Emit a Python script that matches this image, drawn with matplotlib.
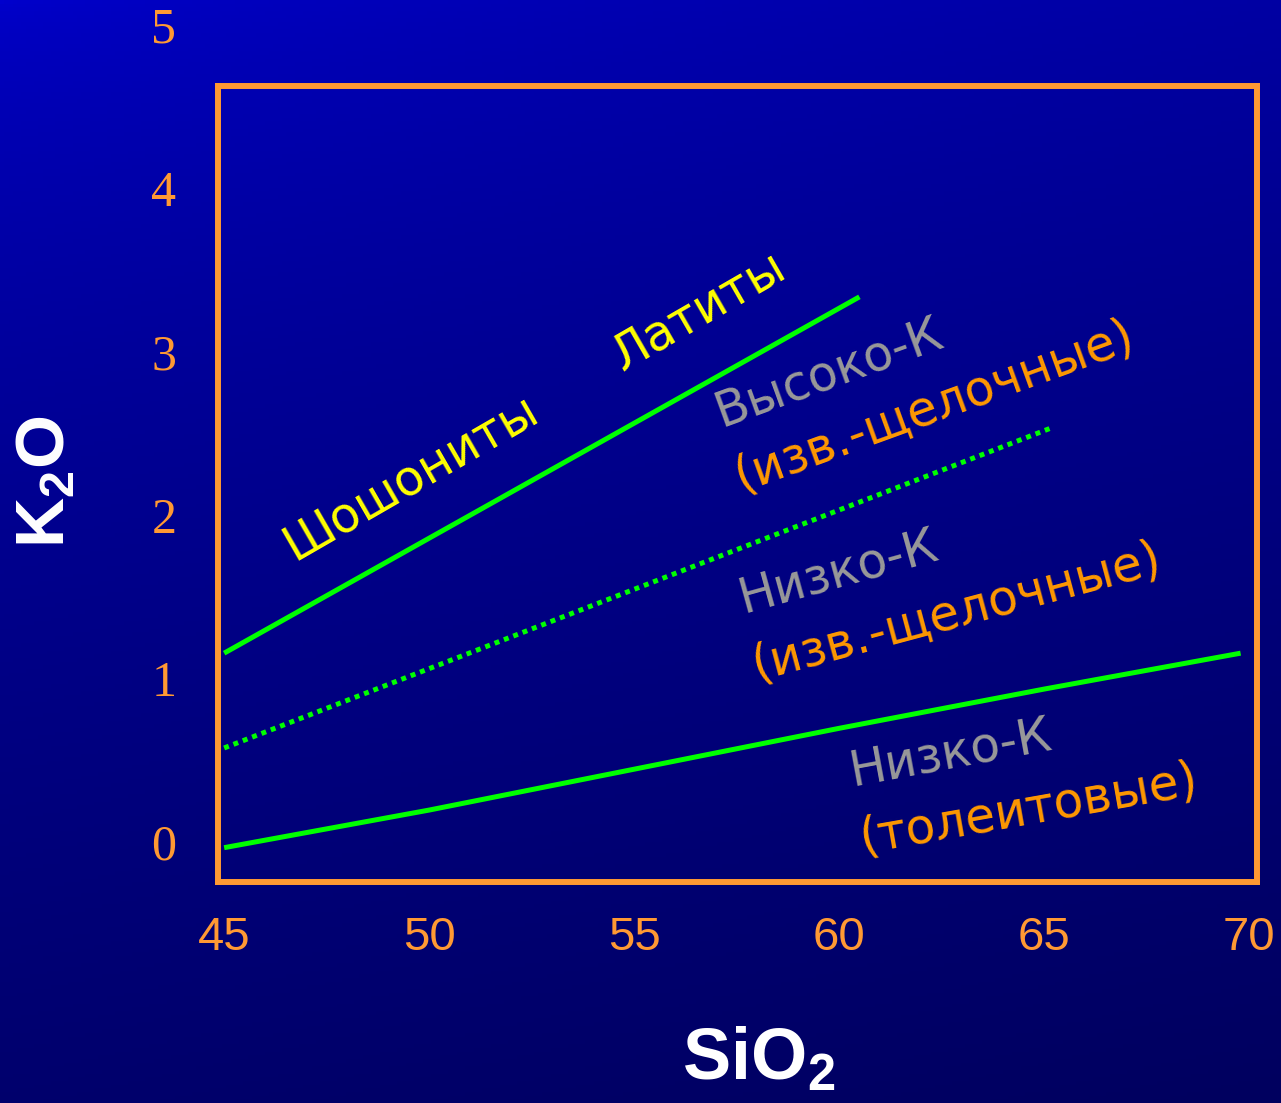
import numpy as np
import matplotlib
matplotlib.use("Agg")
import matplotlib.pyplot as plt
from matplotlib.colors import LinearSegmentedColormap
import matplotlib.transforms as mtransforms

plt.rcParams['mathtext.fontset'] = 'custom'
plt.rcParams['mathtext.rm'] = 'Liberation Sans'
plt.rcParams['mathtext.bf'] = 'Liberation Sans:bold'

# boundary lines (SiO2 vs K2O)
shosh_x = [45.0, 60.5]
shosh_y = [1.17, 3.35]
highk_x = [45.0, 65.2]
highk_y = [0.59, 2.55]
lowk_x = [45.0, 50.0, 55.0, 60.0, 65.0, 69.8]
lowk_y = [-0.02, 0.21, 0.46, 0.71, 0.95, 1.17]

x_ticks = [45, 50, 55, 60, 65, 70]
y_ticks = [0, 1, 2, 3, 4, 5]

labels = ["Шошониты", "Латиты", "Высоко-К", "(изв.-щелочные)",
          "Низко-К", "(изв.-щелочные)", "Низко-К", "(толеитовые)"]
label_x = [49.54, 56.57, 59.75, 62.33, 59.99, 62.87, 62.72, 64.63]
label_y = [2.245, 3.26, 2.89, 2.685, 1.67, 1.42, 0.557, 0.214]
label_rot = [30, 30, 20, 20, 15.5, 15, 10.5, 10]
label_col = ["#FFFF00", "#FFFF00", "#999999", "#FF9900",
             "#999999", "#FF9900", "#999999", "#FF9900"]

ORANGE = "#FF9933"
GREEN = "#00FF00"

fig = plt.figure(figsize=(12.81, 11.03), dpi=100)

# background gradient
bg = fig.add_axes([0, 0, 1, 1], zorder=0)
gx, gy = np.meshgrid(np.linspace(0, 1, 300), np.linspace(0, 1, 300))
t = (0.8 * gy + 0.2 * gx) ** 0.6
cmap = LinearSegmentedColormap.from_list("bg", [(0, 0, 205 / 255), (0, 0, 95 / 255)])
bg.imshow(t, cmap=cmap, aspect='auto', extent=[0, 1, 1, 0], vmin=0, vmax=1)
bg.axis('off')

ax = fig.add_axes([218 / 1281, 1 - 882 / 1103, (1257 - 218) / 1281, (882 - 86) / 1103], zorder=1)
ax.patch.set_alpha(0)
ax.set_xlim(44.85, 70.2)
ax.set_ylim(-0.23, 4.64)
for s in ax.spines.values():
    s.set_color(ORANGE)
    s.set_linewidth(4.3)
ax.set_xticks([])
ax.set_yticks([])

ax.plot(shosh_x, shosh_y, color=GREEN, lw=3.6, solid_capstyle='butt')
ax.plot(highk_x, highk_y, color=GREEN, lw=3.6, ls=(0, (1, 1)), dash_capstyle='butt')
ax.plot(lowk_x, lowk_y, color=GREEN, lw=3.6, solid_capstyle='butt')

for txt, x, y, r, c in zip(labels, label_x, label_y, label_rot, label_col):
    ax.text(x, y, txt, color=c, rotation=r, rotation_mode='anchor',
            ha='center', va='center', fontsize=35, family='DejaVu Sans')

# tick labels placed by hand like the slide
ytr = mtransforms.blended_transform_factory(ax.transAxes, ax.transData)
for v in y_ticks:
    ax.text(-0.052, v - 0.02, str(v), transform=ytr, ha='center', va='center',
            color=ORANGE, fontsize=36, family='Liberation Serif', clip_on=False)
xtr = mtransforms.blended_transform_factory(ax.transData, ax.transAxes)
for v in x_ticks:
    ax.text(v, -0.07, str(v), transform=xtr, ha='center', va='center',
            color=ORANGE, fontsize=34, family='Liberation Sans', clip_on=False)

fig.text(759 / 1281, 1 - 1060 / 1103, r'$\mathbf{SiO_2}$', color='white',
         fontsize=52, ha='center', va='center')
fig.text(45 / 1281, 1 - 482 / 1103, r'$\mathbf{K_2O}$', color='white',
         fontsize=50, ha='center', va='center', rotation=90)

fig.savefig("out.png", dpi=100)
